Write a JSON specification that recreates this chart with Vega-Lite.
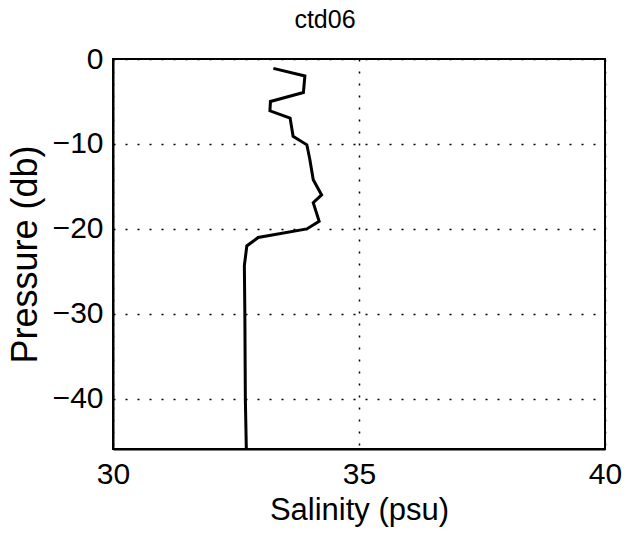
{
  "$schema": "https://vega.github.io/schema/vega-lite/v6.json",
  "width": 492,
  "height": 390,
  "autosize": "none",
  "padding": {"left": 113, "top": 59, "right": 36, "bottom": 87},
  "background": "white",
  "title": {"text": "ctd06", "font": "Liberation Sans", "fontSize": 25, "fontWeight": "normal", "color": "black", "anchor": "middle", "offset": 11, "dx": -34},
  "config": {
    "view": {"stroke": "black", "strokeWidth": 2},
    "axis": {
      "labelFont": "Liberation Sans", "labelFontSize": 30, "labelColor": "black",
      "titleFont": "Liberation Sans", "titleFontSize": 31, "titleFontWeight": "normal", "titleColor": "black",
      "domainColor": "black", "domainWidth": 2,
      "gridColor": "black", "gridDash": [2, 10], "gridWidth": 1.5, "gridOpacity": 1,
      "ticks": false, "labelPadding": 10, "labelFlush": false
    }
  },
  "data": {"values": [
    {"i": 0, "s": 33.26, "p": -1.1},
    {"i": 1, "s": 33.90, "p": -2.0},
    {"i": 2, "s": 33.87, "p": -3.95},
    {"i": 3, "s": 33.20, "p": -5.0},
    {"i": 4, "s": 33.19, "p": -6.1},
    {"i": 5, "s": 33.60, "p": -6.95},
    {"i": 6, "s": 33.66, "p": -9.1},
    {"i": 7, "s": 33.94, "p": -10.1},
    {"i": 8, "s": 34.00, "p": -11.8},
    {"i": 9, "s": 34.07, "p": -14.2},
    {"i": 10, "s": 34.24, "p": -16.0},
    {"i": 11, "s": 34.07, "p": -16.9},
    {"i": 12, "s": 34.19, "p": -19.1},
    {"i": 13, "s": 33.94, "p": -20.0},
    {"i": 14, "s": 32.95, "p": -21.0},
    {"i": 15, "s": 32.72, "p": -22.0},
    {"i": 16, "s": 32.67, "p": -24.3},
    {"i": 17, "s": 32.68, "p": -30.0},
    {"i": 18, "s": 32.69, "p": -40.0},
    {"i": 19, "s": 32.71, "p": -45.9}
  ]},
  "mark": {"type": "line", "color": "black", "strokeWidth": 3, "clip": true},
  "encoding": {
    "x": {"field": "s", "type": "quantitative", "title": "Salinity (psu)",
      "scale": {"domain": [30, 40], "nice": false, "zero": false},
      "axis": {"values": [30, 35, 40], "titlePadding": 6}},
    "y": {"field": "p", "type": "quantitative", "title": "Pressure (db)",
      "scale": {"domain": [-45.9, 0], "nice": false, "zero": false},
      "axis": {"values": [0, -10, -20, -30, -40], "format": "d", "titlePadding": 8, "titleFontSize": 36}},
    "order": {"field": "i", "type": "quantitative"}
  }
}
